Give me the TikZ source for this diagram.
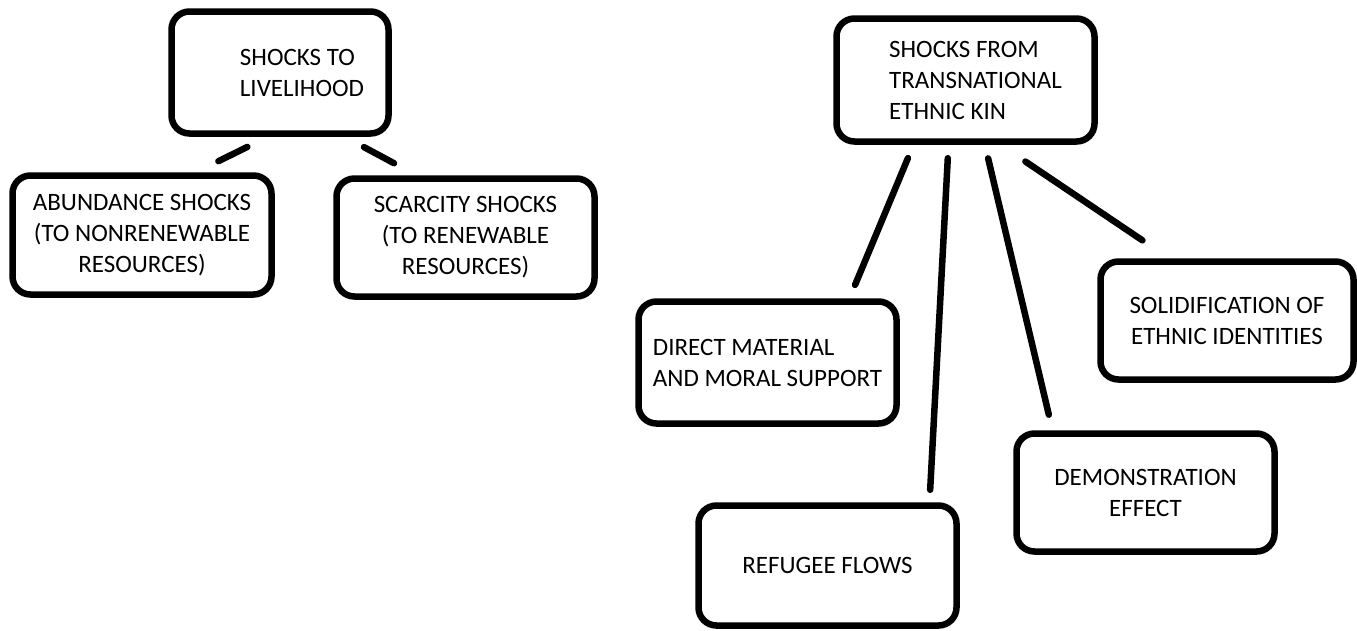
\documentclass[tikz,border=0pt]{standalone}
\usepackage{fontspec}
\setmainfont{Carlito}
\usetikzlibrary{positioning}

\tikzset{
  shockbox/.style={draw, line width=6.5pt, rounded corners=18pt, minimum width=258pt, minimum height=120pt, inner sep=0pt, align=center, font=\fontsize{25}{31}\selectfont},
  tie/.style={line width=6.5pt, line cap=round}
}

\begin{document}
\begin{tikzpicture}[x=1pt, y=-1pt]
    \useasboundingbox (0,0) rectangle (1357,630);

    % livelihood shocks
    \node[shockbox, minimum width=217pt, minimum height=122pt, align=left] (livelihood) at (280,72.5) {\hspace*{44pt}SHOCKS TO\\\hspace*{44pt}LIVELIHOOD};
    \node[shockbox, minimum width=259pt, minimum height=119pt] (abundance) at (142,235) {ABUNDANCE SHOCKS\\(TO NONRENEWABLE\\RESOURCES)};
    \node[shockbox, minimum height=118pt] (scarcity) at (465.5,237.5) {SCARCITY SHOCKS\\(TO RENEWABLE\\RESOURCES)};

    \draw[tie, shorten <=23pt, shorten >=25pt] ([xshift=-12pt]livelihood.south) -- ([xshift=54pt]abundance.north);
    \draw[tie, shorten <=22pt, shorten >=25.5pt] ([xshift=64.6pt]livelihood.south) -- ([xshift=-49pt]scarcity.north);

    % shocks from ethnic kin
    \node[shockbox, minimum height=123pt, align=left] (kin) at (965.5,80) {\hspace*{20pt}SHOCKS FROM\\\hspace*{20pt}TRANSNATIONAL\\\hspace*{20pt}ETHNIC KIN};
    \node[shockbox, minimum height=122pt, align=left] (support) at (767.5,362.5) {DIRECT MATERIAL\\AND MORAL SUPPORT};
    \node[shockbox] (refugee) at (827.5,565.5) {REFUGEE FLOWS};
    \node[shockbox, minimum height=118pt] (demonstration) at (1145.5,492.5) {DEMONSTRATION\\EFFECT};
    \node[shockbox, minimum width=253pt, minimum height=118pt] (solidification) at (1227,320.5) {SOLIDIFICATION OF\\ETHNIC IDENTITIES};

    \draw[tie, shorten <=14.5pt, shorten >=14.5pt] ([xshift=-52pt]kin.south) -- ([xshift=82pt]support.north);
    \draw[tie, shorten <=13.5pt, shorten >=12.5pt] ([xshift=-17pt]kin.south) -- ([xshift=102pt]refugee.north);
    \draw[tie, shorten <=14pt, shorten >=16pt] ([xshift=19.4pt]kin.south) -- ([xshift=-93pt]demonstration.north);
    \draw[tie, shorten <=30pt, shorten >=32pt] ([xshift=35pt]kin.south) -- ([xshift=-58pt]solidification.north);
\end{tikzpicture}
\end{document}
